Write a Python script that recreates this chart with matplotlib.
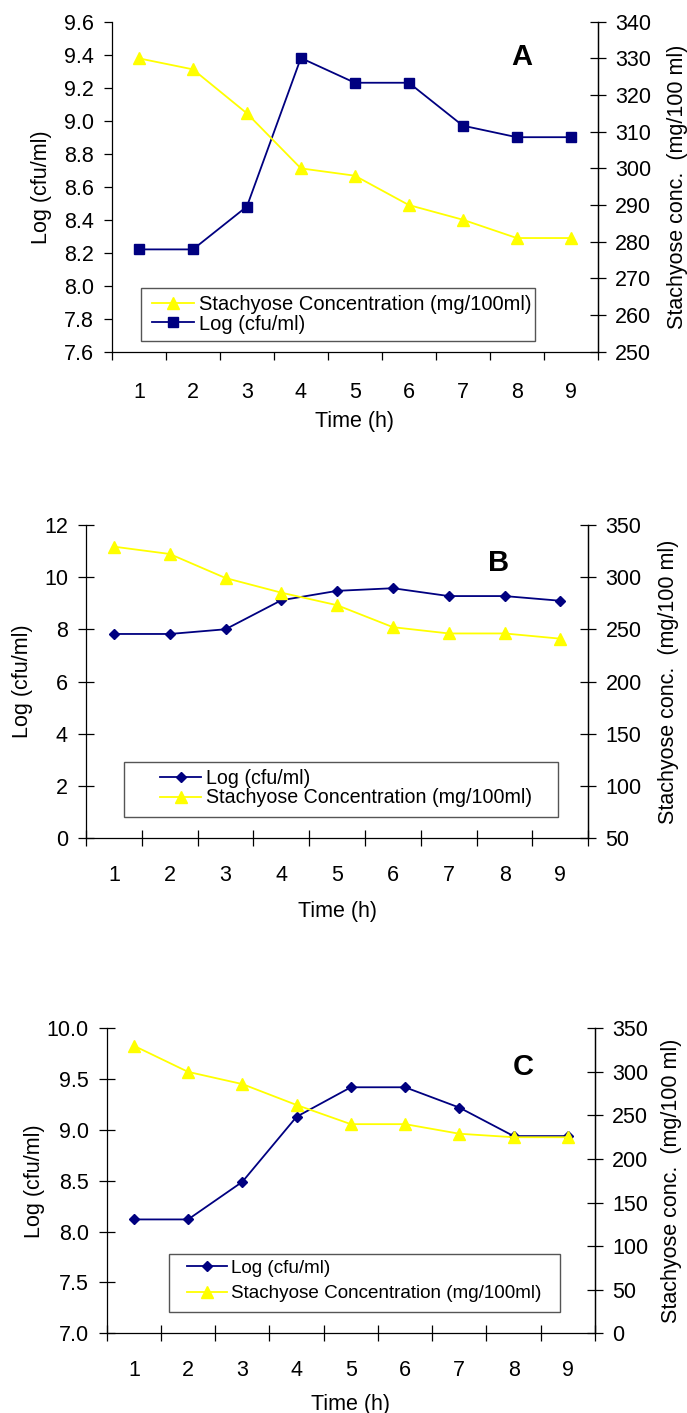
import numpy as np
import matplotlib
matplotlib.use("Agg")
import matplotlib.pyplot as plt
from matplotlib.patches import Rectangle

plt.rcParams["font.family"] = ["Liberation Sans", "DejaVu Sans"]

# ── Data ───────────────────────────────────────────────────────────────────────
hours = [1, 2, 3, 4, 5, 6, 7, 8, 9]

a_log   = [8.22, 8.22, 8.48, 9.38, 9.23, 9.23, 8.97, 8.90, 8.90]
a_stach = [330, 327, 315, 300, 298, 290, 286, 281, 281]

b_log   = [7.82, 7.82, 8.00, 9.11, 9.47, 9.57, 9.27, 9.27, 9.09]
b_stach = [329, 322, 299, 285, 273, 252, 246, 246, 241]

c_log   = [8.12, 8.12, 8.49, 9.13, 9.42, 9.42, 9.22, 8.94, 8.94]
c_stach = [330, 300, 286, 262, 240, 240, 229, 225, 225]

left_ticks_a  = [7.6, 7.8, 8.0, 8.2, 8.4, 8.6, 8.8, 9.0, 9.2, 9.4, 9.6]
right_ticks_a = [250, 260, 270, 280, 290, 300, 310, 320, 330, 340]
left_ticks_b  = [0, 2, 4, 6, 8, 10, 12]
right_ticks_b = [50, 100, 150, 200, 250, 300, 350]
left_ticks_c  = [7.0, 7.5, 8.0, 8.5, 9.0, 9.5, 10.0]
right_ticks_c = [0, 50, 100, 150, 200, 250, 300, 350]

LOG_LABEL   = "Log (cfu/ml)"
STACH_LABEL = "Stachyose Concentration (mg/100ml)"

NAVY   = "#000080"
YELLOW = "#FFFF00"
W, H = 687, 1413
FS = 15.5

fig = plt.figure(figsize=(W / 100, H / 100), dpi=100, facecolor="white")


def px_rect(x0, y0, x1, y1):
    """pixel box (top-left origin) -> figure fraction rect"""
    return [x0 / W, 1 - y1 / H, (x1 - x0) / W, (y1 - y0) / H]


def draw_panel(rect, log_vals, stach_vals, lticks, rticks, lfmt, letter,
               letter_xy, log_marker, log_ms, tickdir, tick_len, xpad,
               xlabel_y, ylab_x, yrlab_x, leg_box, leg_anchor, leg_order,
               leg_spacing, leg_fs):
    ax = fig.add_axes(px_rect(*rect))
    ax2 = ax.twinx()

    ax.set_xlim(0.5, 9.5)
    ax.set_ylim(lticks[0], lticks[-1])
    ax2.set_ylim(rticks[0], rticks[-1])

    l_log, = ax.plot(hours, log_vals, color=NAVY, lw=1.3, marker=log_marker,
                     ms=log_ms, mfc=NAVY, mec=NAVY, label=LOG_LABEL)
    l_st, = ax2.plot(hours, stach_vals, color=YELLOW, lw=1.3, marker="^",
                     ms=8, mfc=YELLOW, mec=YELLOW, label=STACH_LABEL)

    for a in (ax, ax2):
        a.spines["top"].set_visible(False)
        for s in a.spines.values():
            s.set_linewidth(0.9)
    ax2.spines["left"].set_visible(False)
    ax2.spines["bottom"].set_visible(False)

    # category axis: ticks on boundaries, labels in the middle
    ax.set_xticks(np.arange(0.5, 10, 1))
    ax.set_xticklabels([])
    ax.set_xticks(hours, minor=True)
    ax.set_xticklabels([str(h) for h in hours], minor=True, fontsize=FS)
    ax.tick_params(axis="x", which="major", direction=tickdir,
                   length=tick_len, width=0.9)
    ax.tick_params(axis="x", which="minor", length=0, pad=xpad)

    ax.set_yticks(lticks)
    ax.set_yticklabels([lfmt.format(v) for v in lticks], fontsize=FS)
    ax.tick_params(axis="y", direction=tickdir, length=tick_len, width=0.9,
                   pad=7.5)
    ax2.set_yticks(rticks)
    ax2.set_yticklabels([str(v) for v in rticks], fontsize=FS)
    ax2.tick_params(axis="y", direction="inout", length=11, width=0.9, pad=7)

    ax.set_xlabel("Time (h)", fontsize=FS)
    ax.xaxis.set_label_coords(0.5, xlabel_y)
    ax.set_ylabel(LOG_LABEL, fontsize=FS, va="center")
    ax.yaxis.set_label_coords(ylab_x, 0.5)
    ax2.set_ylabel("Stachyose conc.  (mg/100 ml)", fontsize=FS, va="center",
                   rotation=90)
    ax2.yaxis.set_label_coords(yrlab_x, 0.5)

    fig.text(letter_xy[0] / W, 1 - letter_xy[1] / H, letter, fontsize=21,
             fontweight="bold", ha="center", va="center")

    # legend box
    bx0, by0, bx1, by1 = leg_box
    fig.patches.append(Rectangle((bx0 / W, 1 - by1 / H), (bx1 - bx0) / W,
                                 (by1 - by0) / H, transform=fig.transFigure,
                                 facecolor="white", edgecolor="#555555",
                                 lw=1.0, zorder=5))
    handles = [l_log, l_st] if leg_order == "log" else [l_st, l_log]
    leg = fig.legend(handles=handles, loc="center left",
                     bbox_to_anchor=(leg_anchor[0] / W, 1 - leg_anchor[1] / H),
                     frameon=False, fontsize=leg_fs, handlelength=2.1,
                     handletextpad=0.25, labelspacing=leg_spacing,
                     borderpad=0, borderaxespad=0)
    leg.set_zorder(6)
    return ax, ax2


# ── Panel A ────────────────────────────────────────────────────────────────────
draw_panel((112, 21.7, 597.7, 351.7), a_log, a_stach, left_ticks_a,
           right_ticks_a, "{:.1f}", "A", (522, 57), "s", 6.5, "out", 5.5, 22,
           -0.18, -0.145, 1.165, (141, 288, 535, 341), (152, 314.5), "stach",
           0.0, 14.5)

# ── Panel B ────────────────────────────────────────────────────────────────────
draw_panel((86, 524.7, 588.3, 838.4), b_log, b_stach, left_ticks_b,
           right_ticks_b, "{:d}", "B", (499, 563), "D", 5.5, "inout", 11, 19,
           -0.198, -0.127, 1.16, (124, 762, 558, 817), (160, 788), "log",
           0.05, 14.1)

# ── Panel C ────────────────────────────────────────────────────────────────────
draw_panel((106.7, 1028.3, 595, 1333.3), c_log, c_stach, left_ticks_c,
           right_ticks_c, "{:.1f}", "C", (523, 1067), "D", 5.5, "inout", 11,
           19, -0.198, -0.147, 1.157, (169, 1254, 560, 1312), (187, 1281),
           "log", 0.45, 13.6)

fig.savefig("out.png", dpi=100, facecolor="white")
